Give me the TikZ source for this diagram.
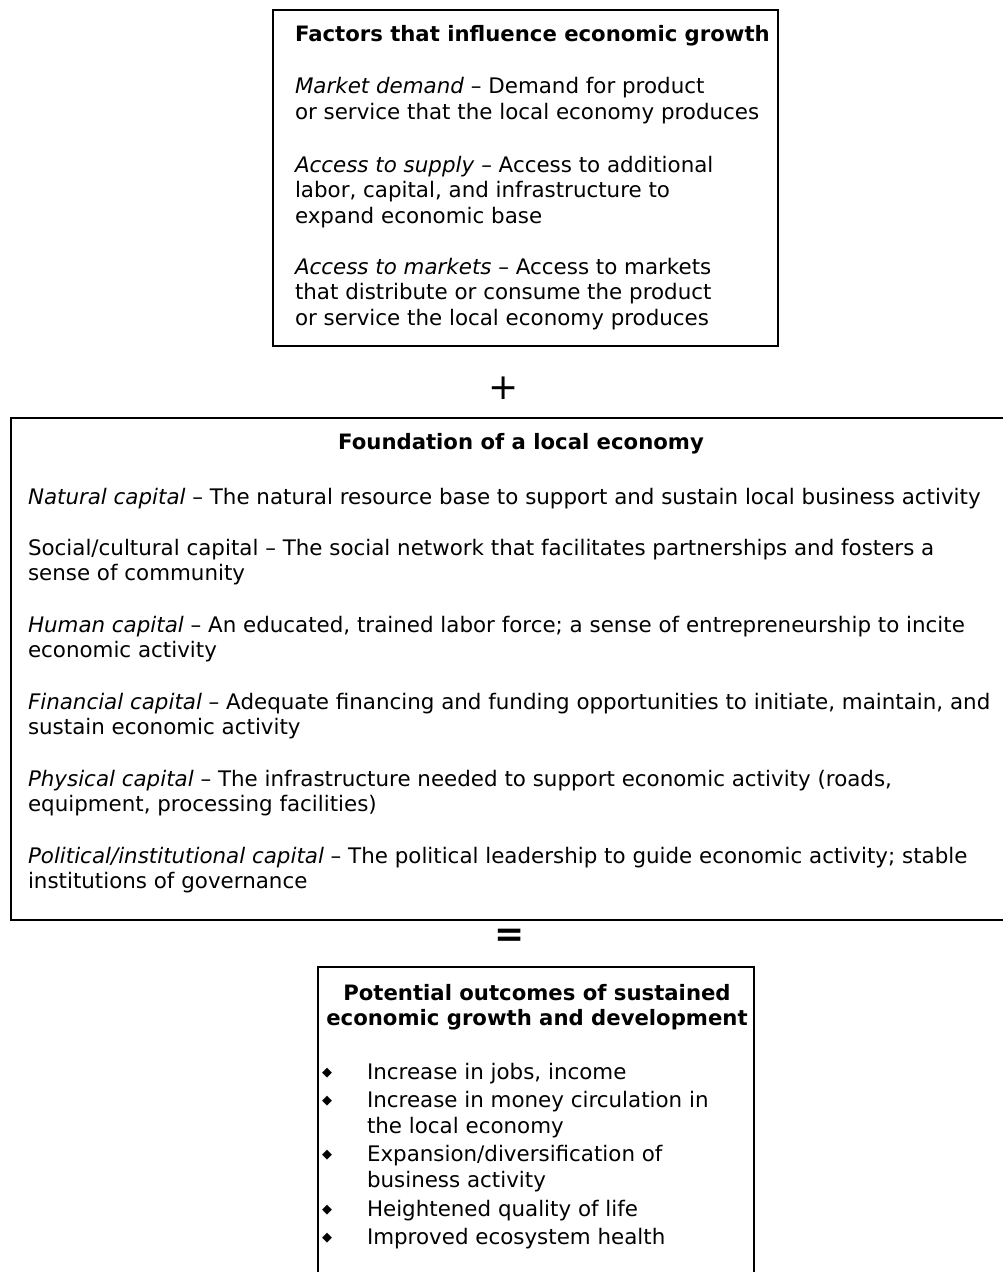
\documentclass[tikz,border=0pt]{standalone}
\usepackage{fontspec}
\setmainfont{DejaVu Sans}
\begin{document}
\begin{tikzpicture}[x=1pt,y=-1pt,
  txt/.style={anchor=base west, inner sep=0pt, outer sep=0pt, align=left, font=\fontsize{21.4}{25.5}\selectfont},
  ttlL/.style={anchor=base west, inner sep=0pt, outer sep=0pt, font=\fontsize{21.2}{25.5}\selectfont\bfseries},
  ttlC/.style={anchor=base, inner sep=0pt, outer sep=0pt, align=center, font=\fontsize{21.2}{25.5}\selectfont\bfseries},
  frame/.style={draw=black, line width=2pt},
  sym/.style={anchor=center, inner sep=0pt, outer sep=0pt, font=\fontsize{36}{36}\selectfont},
  bul/.style={anchor=center, inner sep=0pt, outer sep=0pt, font=\fontsize{13}{13}\selectfont},
]
\useasboundingbox (0,0) rectangle (1003,1272);
\fill[white] (0,0) rectangle (1003,1272);

% top box (multi-line nodes are placed by their last baseline)
\draw[frame] (273,10) rectangle (778,346);
\node[ttlL] (t0) at (295,41) {Factors that influence economic growth};
\node[txt] (t1) at (295,119) {\textit{Market demand} – Demand for product\\or service that the local economy produces};
\node[txt] (t2) at (295,223) {\textit{Access to supply} – Access to additional\\labor, capital, and infrastructure to\\expand economic base};
\node[txt] (t3) at (295,325) {\textit{Access to markets} – Access to markets\\that distribute or consume the product\\or service the local economy produces};

\node[sym] (plus) at (504,388) {+};

% middle box
\draw[frame] (1003,418) -- (11,418) -- (11,920) -- (1003,920);
\node[ttlC] (m0) at (521,449) {Foundation of a local economy};
\node[txt] (m1) at (28,504) {\textit{Natural capital} – The natural resource base to support and sustain local business activity};
\node[txt] (m2) at (28,580.5) {Social/cultural capital – The social network that facilitates partnerships and fosters a\\sense of community};
\node[txt] (m3) at (28,657.5) {\textit{Human capital} – An educated, trained labor force; a sense of entrepreneurship to incite\\economic activity};
\node[txt] (m4) at (28,734.5) {\textit{Financial capital} – Adequate financing and funding opportunities to initiate, maintain, and\\sustain economic activity};
\node[txt] (m5) at (28,811.5) {\textit{Physical capital} – The infrastructure needed to support economic activity (roads,\\equipment, processing facilities)};
\node[txt] (m6) at (28,888.5) {\textit{Political/institutional capital} – The political leadership to guide economic activity; stable\\institutions of governance};

\node[sym, font=\fontsize{36}{36}\selectfont\bfseries] (eq) at (510,938) {=};

% bottom box
\draw[frame] (318,1272) -- (318,967) -- (754,967) -- (754,1272);
\node[ttlC] (b0) at (537,1025.5) {Potential outcomes of sustained\\economic growth and development};
\node[bul] (d1) at (327,1073) {◆};
\node[bul] (d2) at (327,1101) {◆};
\node[bul] (d3) at (327,1155) {◆};
\node[bul] (d4) at (327,1210) {◆};
\node[bul] (d5) at (327,1238) {◆};
\node[txt, font=\fontsize{21.4}{26.5}\selectfont] (b1) at (367,1079) {Increase in jobs, income};
\node[txt, font=\fontsize{21.4}{26.5}\selectfont] (b2) at (367,1133.5) {Increase in money circulation in\\the local economy};
\node[txt, font=\fontsize{21.4}{26.5}\selectfont] (b3) at (367,1187.5) {Expansion/diversification of\\business activity};
\node[txt] (b4) at (367,1216) {Heightened quality of life};
\node[txt] (b5) at (367,1244) {Improved ecosystem health};
\end{tikzpicture}
\end{document}
